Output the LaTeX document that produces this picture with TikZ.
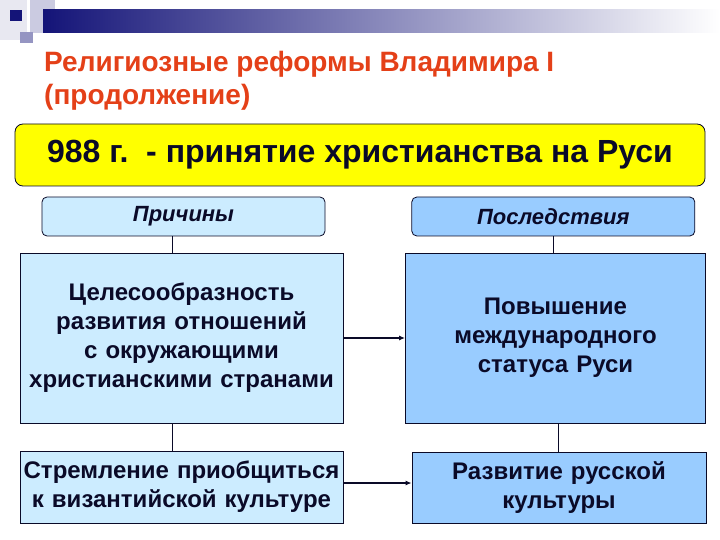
\documentclass[tikz,border=0pt]{standalone}
\usepackage{fontspec}
\setmainfont{Liberation Sans}
\usepackage{tikz}
\usetikzlibrary{arrows.meta, positioning, calc}

\definecolor{slidenavy}{RGB}{20,20,120}
\definecolor{titlered}{RGB}{228,64,24}
\definecolor{eventyellow}{RGB}{255,255,0}
\definecolor{palebox}{RGB}{204,236,255}
\definecolor{midbox}{RGB}{153,204,255}
\definecolor{inknavy}{RGB}{10,10,40}

\begin{document}
\begin{tikzpicture}[
    x=1bp, y=-1bp,
    box/.style={draw=inknavy, line width=0.8bp, inner sep=0pt, align=center, text=inknavy},
    headbox/.style={box, rounded corners=5bp, minimum width=283bp, minimum height=39bp, font=\bfseries\itshape\fontsize{22bp}{26bp}\selectfont},
    bodybox/.style={box, text width=318bp, font=\bfseries\fontsize{24bp}{29bp}\selectfont},
    link/.style={draw=inknavy, line width=0.8bp},
    map/.style={link, line width=1.3bp, -{Latex[length=6bp, width=5bp]}}
]
    \useasboundingbox (0,0) rectangle (720,540);
    % slide header
    \fill[slidenavy!10] (0,0) rectangle (27,40);
    \fill[slidenavy!22] (30,0) rectangle (55,33);
    \fill[slidenavy!45] (20,32) rectangle (33,43);
    \shade[left color=slidenavy, middle color=slidenavy!22, right color=white] (43,10) rectangle (720,33);
    \fill[slidenavy] (10,10) rectangle (22,21);
    \node[anchor=base west, align=left, text=titlered, inner sep=0pt,
          font=\bfseries\fontsize{28bp}{33bp}\selectfont] (title) at (44,105)
        {Религиозные реформы Владимира I\\(продолжение)};

    \node[box, rounded corners=8bp, fill=eventyellow, minimum width=690bp, minimum height=62bp,
          font=\bfseries\fontsize{32bp}{36bp}\selectfont] (event) at (360,155)
        {988 г.\ \ - принятие христианства на Руси};

    \node[headbox, fill=palebox] (reasons) at (183.5,216.5) {Причины};
    \node[headbox, fill=midbox, right=86bp of reasons] (results) {Последствия};

    \node[bodybox, fill=palebox, minimum width=323bp, minimum height=170bp] (aim) at (181.5,338)
        {Целесообразность\\развития отношений\\с окружающими\\христианскими странами};
    \node[bodybox, fill=midbox, text width=290bp, minimum width=300bp, minimum height=170bp] (status) at (555.5,338)
        {Повышение\\международного\\статуса Руси};
    \node[bodybox, fill=palebox, minimum width=323bp, minimum height=72bp] (culture) at (181.5,487)
        {Стремление приобщиться\\к византийской культуре};
    \node[bodybox, fill=midbox, text width=284bp, minimum width=294bp, minimum height=71bp] (growth) at (559,487.5)
        {Развитие русской\\культуры};

    \draw[link] ([xshift=-11.5bp]reasons.south) -- ([xshift=-11.5bp]reasons.south |- aim.north);
    \draw[link] (results.south) -- (results.south |- status.north);
    \draw[link] ([xshift=-9.5bp]aim.south) -- ([xshift=-9.5bp]aim.south |- culture.north);
    \draw[link] ([xshift=2.5bp]status.south) -- ([xshift=2.5bp]status.south |- growth.north);

    \draw[map] (aim.east) -- (status.west);
    \draw[map] ([yshift=4bp]culture.east) -- ([yshift=4bp]culture.east -| growth.west);
\end{tikzpicture}
\end{document}
